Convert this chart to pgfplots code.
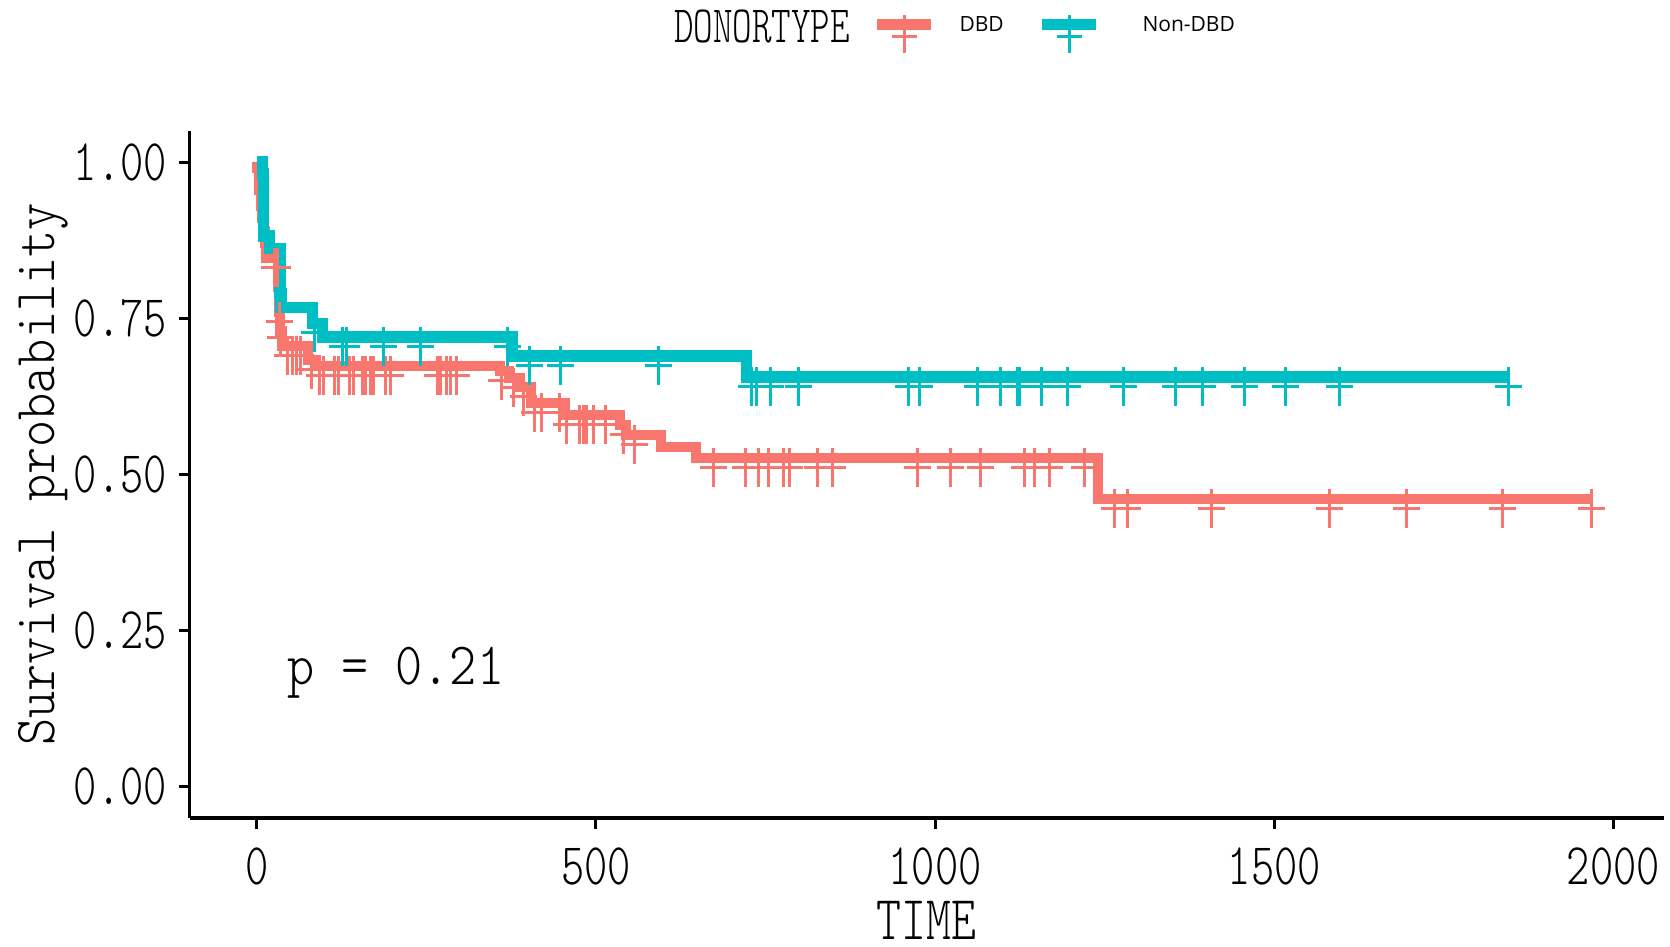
\documentclass[border=0pt]{standalone}
\usepackage{fontspec}
\usepackage{pgfplots}
\pgfplotsset{compat=1.18}
\setmainfont{Liberation Serif}
\newfontfamily\tickfont[FakeStretch=0.75]{Latin Modern Mono Light}
\newfontfamily\xlabfont[FakeStretch=0.76]{Latin Modern Mono Light}
\newfontfamily\ylabfont[FakeStretch=0.89]{Latin Modern Mono Light}
\newfontfamily\pfont[FakeStretch=0.86]{Latin Modern Mono Light}
\newfontfamily\titfont[FakeStretch=0.71]{Latin Modern Mono Light}
\newfontfamily\legfont{Open Sans}
\definecolor{dbd}{HTML}{F8766D}
\definecolor{ndbd}{HTML}{00BFC4}
\pgfdeclareplotmark{censor}{%
  \pgfpathmoveto{\pgfqpoint{0pt}{10pt}}\pgfpathlineto{\pgfqpoint{0pt}{-29pt}}%
  \pgfpathmoveto{\pgfqpoint{-13.5pt}{-9.5pt}}\pgfpathlineto{\pgfqpoint{13.5pt}{-9.5pt}}%
  \pgfusepathqstroke}
\pgfplotstableread{
t s
85 0.742
126 0.72
133 0.72
187 0.72
241 0.72
370 0.72
402 0.69
448 0.69
592 0.69
729 0.656
736 0.656
757 0.656
798 0.656
961 0.656
977 0.656
1062 0.656
1096 0.656
1121 0.656
1124 0.656
1157 0.656
1195 0.656
1278 0.656
1355 0.656
1394 0.656
1456 0.656
1517 0.656
1596 0.656
1846 0.656
}\ndbdcens
\pgfplotstableread{
t s
26 0.846
31 0.846
33 0.760
35 0.735
46 0.705
53 0.705
58 0.705
65 0.705
80 0.684
92 0.674
99 0.674
115 0.674
120 0.674
136 0.674
143 0.674
156 0.674
161 0.674
168 0.674
172 0.674
190 0.674
197 0.674
266 0.674
271 0.674
279 0.674
285 0.674
294 0.674
361 0.665
378 0.655
393 0.640
410 0.614
420 0.614
447 0.614
456 0.595
476 0.595
481 0.595
486 0.595
496 0.595
514 0.595
540 0.580
557 0.563
674 0.527
721 0.527
740 0.527
755 0.527
777 0.527
785 0.527
827 0.527
849 0.527
974 0.527
1023 0.527
1067 0.527
1132 0.527
1146 0.527
1168 0.527
1220 0.527
1264 0.461
1284 0.461
1408 0.461
1581 0.461
1695 0.461
1836 0.461
1968 0.461
}\dbdcens
\begin{document}
\begin{tikzpicture}
\path[use as bounding box] (0pt,0pt) rectangle (1670pt,947pt);
\begin{axis}[
  at={(189.6pt,129pt)}, anchor=south west,
  width=1474pt, height=687pt, scale only axis,
  xmin=-99, xmax=2074, ymin=-0.05, ymax=1.05,
  clip=false,
  axis x line*=bottom, axis y line*=left,
  axis line style={line width=3.5pt, -},
  xtick={0,500,1000,1500,2000}, xticklabels={0,500,1000,1500,2000},
  ytick={0,0.25,0.5,0.75,1}, yticklabels={0.00,0.25,0.50,0.75,1.00},
  tick align=outside, major tick length=11pt,
  tick style={line width=3pt, black},
  xticklabel style={font=\tickfont\fontsize{59}{62}\selectfont, anchor=north, inner sep=0pt, yshift=-19pt},
  yticklabel style={font=\tickfont\fontsize{59}{62}\selectfont, anchor=east, inner sep=0pt, xshift=-11.6pt},
  xlabel={TIME}, ylabel={Survival probability},
  xlabel style={font=\xlabfont\fontsize{62.5}{66}\selectfont, at={(axis description cs:0.5,-0.149)}, anchor=center, inner sep=0pt},
  ylabel style={font=\ylabfont\fontsize{58}{60}\selectfont, at={(axis description cs:-0.0991,0.5)}, anchor=center, inner sep=0pt},
  legend style={at={(axis description cs:0.3129,1.1543)}, anchor=west, draw=none, fill=none, inner sep=0pt,
    /tikz/every odd column/.append style={column sep=21pt},
    /tikz/every even column/.append style={column sep=0pt}},
  legend columns=-1, legend cell align=left,
]
\addlegendimage{empty legend}
\addlegendentry{\makebox[195.5pt][l]{\raisebox{-3pt}{\titfont\fontsize{52.4}{54}\selectfont DONORTYPE}}}
\addplot[const plot, dbd, line width=10pt,
  legend image code/.code={
    \draw[line width=11pt] (0pt,0pt) -- (54pt,0pt);
    \draw[line width=3pt] (27pt,10pt) -- (27pt,-28pt) (14.5pt,-12pt) -- (39.5pt,-12pt);
    \path[draw=none,fill=none] (0pt,-40pt) rectangle (54pt,40pt);}]
coordinates {(0,1.0) (1,0.99) (3,0.975) (4,0.955) (6,0.93) (8,0.91) (10,0.89) (12,0.87) (14,0.846) (31,0.80) (33,0.76) (35,0.73) (37,0.705) (75,0.684) (87,0.674) (359,0.665) (372,0.655) (388,0.640) (405,0.614) (454,0.595) (535,0.58) (545,0.563) (596,0.5445) (647,0.527) (1240,0.461) (1968,0.461)};
\addlegendentry{\makebox[75pt][l]{\legfont\fontsize{21}{24}\selectfont DBD}}
\addplot[const plot, ndbd, line width=11.5pt,
  legend image code/.code={
    \draw[line width=11pt] (0pt,0pt) -- (54pt,0pt);
    \draw[line width=3pt] (27pt,10pt) -- (27pt,-28pt) (14.5pt,-12pt) -- (39.5pt,-12pt);
    \path[draw=none,fill=none] (0pt,-40pt) rectangle (54pt,40pt);}]
coordinates {(0,1.0) (8.4,0.982) (10,0.882) (18.7,0.862) (34,0.79) (36,0.767) (82,0.742) (97,0.72) (377,0.69) (722,0.656) (1846,0.656)};
\addlegendentry{\makebox[110pt][l]{\hspace{18pt}\legfont\fontsize{21}{24}\selectfont Non-DBD}}
\addplot[only marks, mark=censor, dbd, mark options={line width=3pt, solid}, forget plot] table[x=t, y=s] {\dbdcens};
\addplot[only marks, mark=censor, ndbd, mark options={line width=3pt, solid}, forget plot] table[x=t, y=s] {\ndbdcens};
\node[font=\pfont\fontsize{60}{62}\selectfont, anchor=base west, inner sep=0pt] at (axis cs:45,0.163) {p = 0.21};
\end{axis}
\end{tikzpicture}
\end{document}
